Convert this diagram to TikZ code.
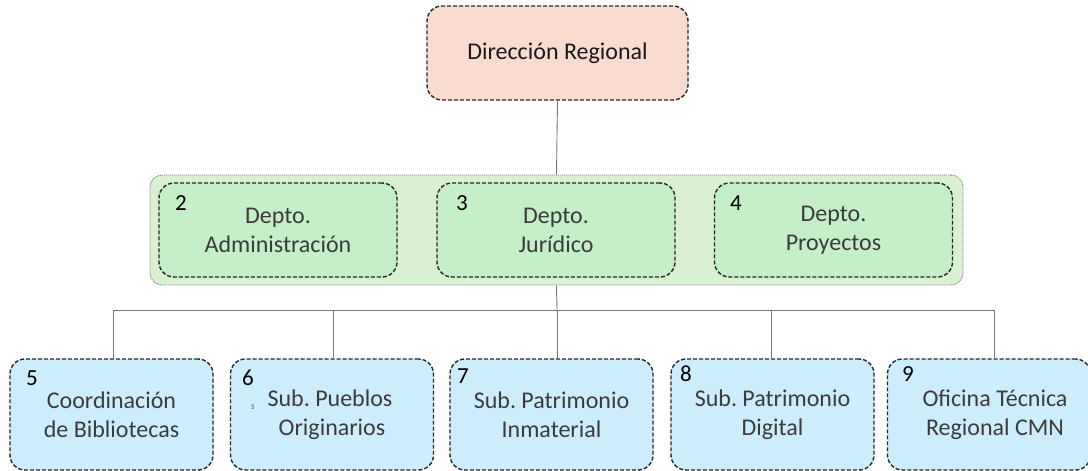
\documentclass[tikz,border=0pt]{standalone}
\usepackage{fontspec}
\setmainfont{Carlito}
\frenchspacing
\definecolor{peach}{RGB}{250,219,208}
\definecolor{contgreen}{RGB}{217,241,208}
\definecolor{boxgreen}{RGB}{196,239,199}
\definecolor{boxblue}{RGB}{204,237,251}
\definecolor{txtgray}{RGB}{60,60,60}
\definecolor{linegray}{RGB}{120,120,120}
\begin{document}
\begin{tikzpicture}[x=1pt,y=-1pt,
  orgbox/.style={draw=black!85, line width=1.4pt, dash pattern=on 4pt off 2pt,
     rounded corners=15pt, inner sep=0pt, align=center, text=txtgray,
     font=\fontsize{24}{29}\selectfont},
  topbox/.style={orgbox, fill=peach, text=black!90, minimum width=261pt, minimum height=94pt},
  greenbox/.style={orgbox, fill=boxgreen, minimum width=238pt, minimum height=94pt},
  bluebox/.style={orgbox, fill=boxblue, minimum width=203pt, minimum height=111pt},
  container/.style={draw=linegray, line width=0.9pt, dash pattern=on 1pt off 1pt,
     fill=contgreen, rounded corners=12pt, inner sep=0pt,
     minimum width=813pt, minimum height=110pt},
  num/.style={inner sep=0pt, text=black, font=\fontsize{23}{26}\selectfont},
  conn/.style={draw=linegray, line width=0.9pt}
]
\useasboundingbox (0,0) rectangle (1088,471);

% top
\node[topbox] (top) at (557.5,53) {Dirección Regional};

% container
\node[container] (cont) at (556.5,230) {};

% green departments
\node[greenbox] (d2) at (278,230) {Depto.\\Administración};
\node[greenbox] (d3) at (556,230) {Depto.\\Jurídico};
\node[greenbox] (d4) at (833.5,230) {Depto.\\Proyectos};
\node[num] (n2) at (181,203) {2};
\node[num] (n3) at (462,203) {3};
\node[num] (n4) at (736,203) {4};

% blue units
\node[bluebox] (b5) at (111.5,414.5) {Coordinación\\de Bibliotecas};
\node[bluebox] (b6) at (332,414.5) {\hspace*{-4pt}Sub. Pueblos\\Originarios};
\node[bluebox] (b7) at (551.5,414.5) {Sub. Patrimonio\\Inmaterial};
\node[bluebox] (b8) at (772.5,414.5) {Sub. Patrimonio\\Digital};
\node[bluebox] (b9) at (989,414.5) {\hspace*{12pt}Oficina Técnica\\\hspace*{12pt}Regional CMN};
\node[num] (n5) at (32,378) {5};
\node[num] (n6) at (248,378) {6};
\node[num] (n7) at (463,376) {7};
\node[num] (n8) at (686,374) {8};
\node[num] (n9) at (908,374) {9};
\node[inner sep=0pt, text=txtgray, font=\fontsize{7}{8}\selectfont] (tiny) at (253,407) {5};

% connectors
\coordinate (bus) at (557,310);
\coordinate (l5) at (113,310);
\coordinate (l6) at (333,310);
\coordinate (l8) at (771,310);
\coordinate (l9) at (994,310);
\draw[conn] (top.south) -- (cont.north);
\draw[conn] (cont.south) -- (bus);
\draw[conn] (l5) -- (l9);
\draw[conn] (l5) -- (l5 |- b5.north);
\draw[conn] (l6) -- (l6 |- b6.north);
\draw[conn] (bus) -- (bus |- b7.north);
\draw[conn] (l8) -- (l8 |- b8.north);
\draw[conn] (l9) -- (l9 |- b9.north);
\end{tikzpicture}
\end{document}
